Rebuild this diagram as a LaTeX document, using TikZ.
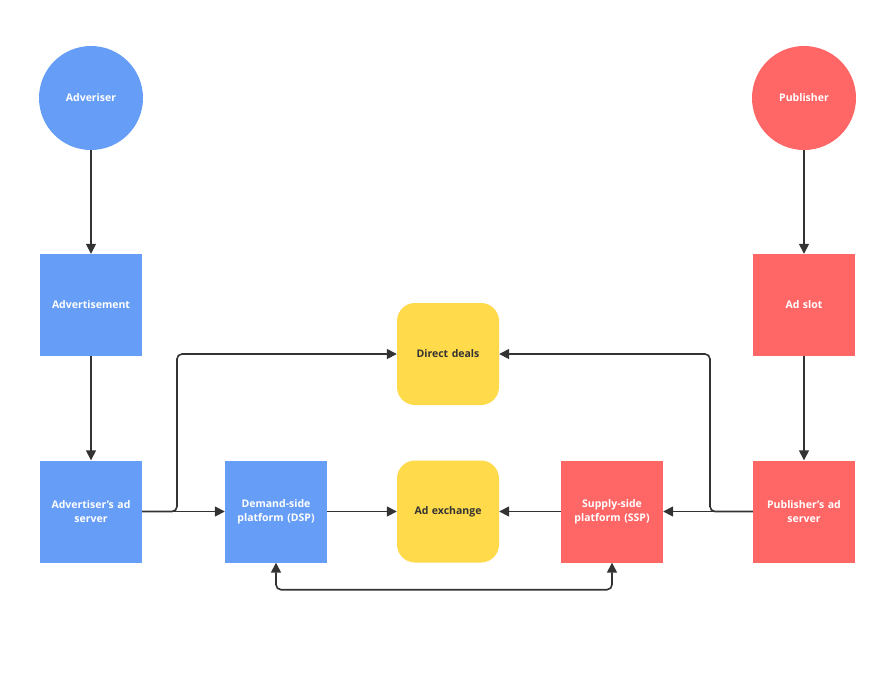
\documentclass[tikz,border=0pt]{standalone}
\usepackage{fontspec}
\setmainfont{Open Sans}
\usetikzlibrary{arrows.meta}
\definecolor{cblue}{HTML}{669DF6}
\definecolor{cred}{HTML}{FF6666}
\definecolor{cyel}{HTML}{FFDA4A}
\definecolor{cline}{HTML}{333333}
\begin{document}
\begin{tikzpicture}[x=1pt,y=-1pt,
  lbl/.style={font=\fontsize{10.5}{14}\selectfont\bfseries, align=center, text width=94pt},
  circ/.style={circle, minimum size=104pt, inner sep=0pt, lbl, text=white},
  sq/.style={rectangle, minimum width=102pt, minimum height=102pt, inner sep=0pt, lbl, text=white},
  rsq/.style={rectangle, rounded corners=18pt, minimum width=102pt, minimum height=102pt, inner sep=0pt, lbl, text=cline, fill=cyel},
  tip/.style={Triangle[length=10pt,width=10pt]},
  conn/.style={draw=cline, line width=1.6pt, -{Triangle[length=10pt,width=10pt]}, rounded corners=5pt}
]
\useasboundingbox (0,0) rectangle (895,691);
\fill[white] (0,0) rectangle (895,691);
\node[circ, fill=cblue] (adv) at (91,98) {Adveriser};
\node[circ, fill=cred] (pub) at (804,98) {Publisher};
\node[sq, fill=cblue] (ad) at (91,305) {Advertisement};
\node[sq, fill=cred] (slot) at (804,305) {Ad slot};
\node[sq, fill=cblue] (advs) at (91,511.5) {Advertiser's ad\\server};
\node[sq, fill=cblue] (dsp) at (276,511.5) {Demand-side\\platform (DSP)};
\node[rsq] (ax) at (448,511.5) {Ad exchange};
\node[sq, fill=cred] (ssp) at (612,511.5) {Supply-side\\platform (SSP)};
\node[sq, fill=cred] (pubs) at (804,511.5) {Publisher's ad\\server};
\node[rsq] (dd) at (448,354) {Direct deals};
\coordinate (bl) at (177,511.5);
\coordinate (br) at (710,511.5);
\draw[conn] (adv) -- (ad);
\draw[conn] (ad) -- (advs);
\draw[conn] (pub) -- (slot);
\draw[conn] (slot) -- (pubs);
\draw[conn] (advs) -- (dsp);
\draw[conn] (dsp) -- (ax);
\draw[conn] (ssp) -- (ax);
\draw[conn] (pubs) -- (ssp);
\draw[conn] (advs.east) -- (bl) -- (bl |- dd.west) -- (dd.west);
\draw[conn] (pubs.west) -- (br) -- (br |- dd.east) -- (dd.east);
\draw[conn, {Triangle[length=10pt,width=10pt]}-{Triangle[length=10pt,width=10pt]}] (dsp.south) -- ++(0,27) -| (ssp.south);
\end{tikzpicture}
\end{document}
